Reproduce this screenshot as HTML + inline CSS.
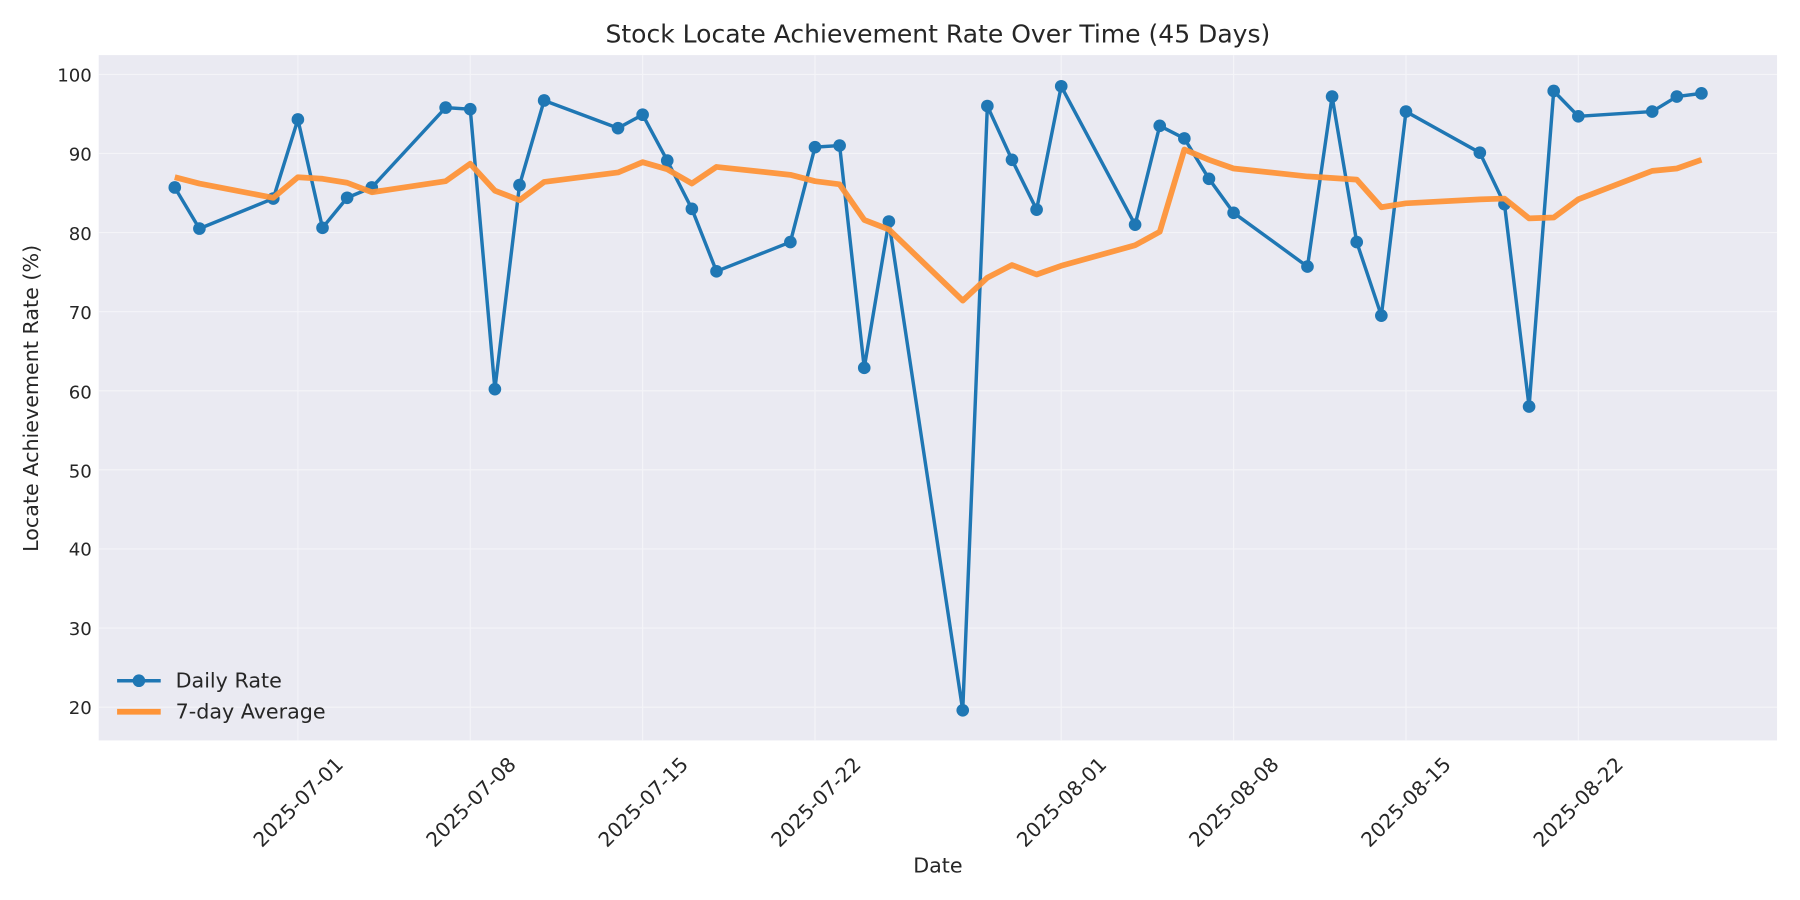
<!DOCTYPE html>
<html><head><meta charset="utf-8"><style>
html,body{margin:0;padding:0;background:#fff}
svg{display:block}
text{font-family:"DejaVu Sans","Liberation Sans",sans-serif;fill:#262626}
</style></head><body>
<svg id="s" width="1800" height="900" viewBox="0 0 1568 784" xmlns="http://www.w3.org/2000/svg">
<rect x="0" y="0" width="1568" height="784" fill="#fff"/>
<rect x="86" y="48" width="1462" height="597" fill="#eaeaf2"/>
<g id="grid" stroke="#f4f4f8" stroke-width="1"></g>
<g id="series"></g>
<text x="817" y="37" font-size="21.8" text-anchor="middle">Stock Locate Achievement Rate Over Time (45 Days)</text>
<g font-size="15.8" text-anchor="end">
<text x="80" y="71">100</text><text x="80" y="140">90</text><text x="80" y="209">80</text><text x="80" y="278">70</text><text x="80" y="347">60</text><text x="80" y="416">50</text><text x="80" y="484">40</text><text x="80" y="553">30</text><text x="80" y="622">20</text>
</g>
<text transform="translate(33,347) rotate(-90)" font-size="18" text-anchor="middle">Locate Achievement Rate (%)</text>
<text x="817" y="760" font-size="18" text-anchor="middle">Date</text>
<g font-size="17.5" text-anchor="end">
<text transform="translate(300,667) rotate(-45)">2025-07-01</text>
<text transform="translate(450.5,667) rotate(-45)">2025-07-08</text>
<text transform="translate(600.5,667) rotate(-45)">2025-07-15</text>
<text transform="translate(751,667) rotate(-45)">2025-07-22</text>
<text transform="translate(965,667) rotate(-45)">2025-08-01</text>
<text transform="translate(1115,667) rotate(-45)">2025-08-08</text>
<text transform="translate(1265,667) rotate(-45)">2025-08-15</text>
<text transform="translate(1415,667) rotate(-45)">2025-08-22</text>
</g>
<line x1="102" y1="593" x2="140" y2="593" stroke="#1f77b4" stroke-width="3"/>
<circle cx="121" cy="593" r="5.5" fill="#1f77b4"/>
<line x1="102" y1="620" x2="140" y2="620" stroke="#fe9438" stroke-width="5"/>
<text x="153" y="599" font-size="18">Daily Rate</text>
<text x="153" y="626" font-size="18">7-day Average</text>
</svg>
<script>
var NS="http://www.w3.org/2000/svg";
function X(d){return 259.5+21.45*d}function Y(v){return 616-(v-20)*6.89}
var g=document.getElementById('grid'),s=document.getElementById('series');
function el(p,t,a){var e=document.createElementNS(NS,t);for(var k in a)e.setAttribute(k,a[k]);p.appendChild(e);return e}
for(var v=20;v<=100;v+=10)el(g,'line',{x1:86,x2:1548,y1:Y(v),y2:Y(v)});
[0,7,14,21,31,38,45,52].forEach(function(d){el(g,'line',{x1:X(d),x2:X(d),y1:48,y2:645})});
var D=[[-5,85.7],[-4,80.5],[-1,84.3],[0,94.3],[1,80.6],[2,84.4],[3,85.7],[6,95.8],[7,95.6],[8,60.2],[9,86.0],[10,96.7],[13,93.2],[14,94.9],[15,89.1],[16,83.0],[17,75.1],[20,78.8],[21,90.8],[22,91.0],[23,62.9],[24,81.4],[27,19.6],[28,96.0],[29,89.2],[30,82.9],[31,98.5],[34,81.0],[35,93.5],[36,91.9],[37,86.8],[38,82.5],[41,75.7],[42,97.2],[43,78.8],[44,69.5],[45,95.3],[48,90.1],[49,83.6],[50,58.0],[51,97.9],[52,94.7],[55,95.3],[56,97.2],[57,97.6]];
var A=[87.0,86.2,84.4,87.0,86.8,86.3,85.1,86.5,88.7,85.3,84.1,86.4,87.6,88.9,88.0,86.2,88.3,87.3,86.5,86.1,81.6,80.4,71.4,74.3,75.9,74.7,75.8,78.4,80.1,90.5,89.2,88.1,87.1,86.9,86.7,83.2,83.7,84.2,84.3,81.8,81.9,84.2,87.8,88.1,89.2];
var p1=D.map(function(p){return X(p[0])+','+Y(p[1])}).join(' ');
var p2=D.map(function(p,i){return X(p[0])+','+Y(A[i])}).join(' ');
el(s,'polyline',{points:p1,fill:'none',stroke:'#1f77b4','stroke-width':3,'stroke-linejoin':'round'});
D.forEach(function(p){el(s,'circle',{cx:X(p[0]),cy:Y(p[1]),r:5.5,fill:'#1f77b4'})});
el(s,'polyline',{points:p2,fill:'none',stroke:'#fe9438','stroke-width':5,'stroke-linejoin':'round','stroke-opacity':0.95});
</script>
</body></html>
